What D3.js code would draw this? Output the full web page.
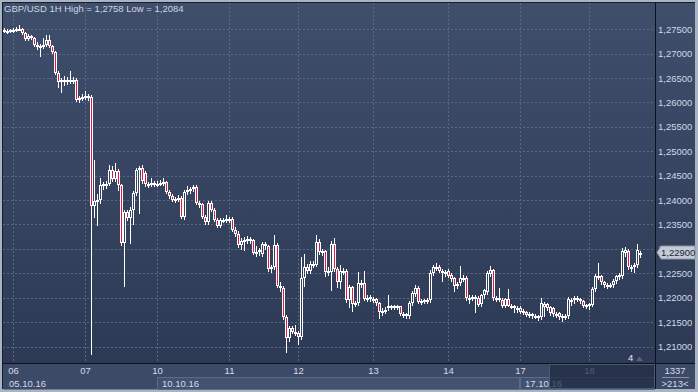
<!DOCTYPE html>
<html>
<head>
<meta charset="utf-8">
<script src="https://cdnjs.cloudflare.com/ajax/libs/d3/7.8.5/d3.min.js"></script>
<style>
    body { margin: 0; background: #aab3c2; }
    svg { display: block; font-family: "Liberation Sans", Arial, sans-serif; }
</style>
</head>
<body>
<svg id="chart" width="698" height="392"></svg>
<script>
// GBP/USD hourly candles, 05.10.16 21:00 .. 18.10.16 (213 bars)
var opens = [
    1.2748,1.2746,1.2747,1.2748,1.2749,1.2751,1.2750,1.2743,1.2730,1.2736,
    1.2733,1.2718,1.2714,1.2716,1.2718,1.2728,1.2716,1.2704,1.2660,1.2642,
    1.2646,1.2644,1.2647,1.2645,1.2647,1.2606,1.2610,1.2612,1.2614,1.2612,
    1.2388,1.2398,1.2400,1.2430,1.2432,1.2434,1.2461,1.2443,1.2460,1.2430,
    1.2312,1.2375,1.2363,1.2380,1.2414,1.2462,1.2465,1.2456,1.2432,1.2433,
    1.2435,1.2432,1.2434,1.2436,1.2438,1.2417,1.2408,1.2400,1.2402,1.2405,
    1.2366,1.2417,1.2420,1.2422,1.2426,1.2394,1.2392,1.2366,1.2356,1.2394,
    1.2380,1.2360,1.2347,1.2360,1.2359,1.2361,1.2362,1.2338,1.2330,1.2308,
    1.2316,1.2318,1.2321,1.2318,1.2292,1.2294,1.2290,1.2310,1.2305,1.2258,
    1.2262,1.2308,1.2225,1.2220,1.2160,1.2118,1.2138,1.2130,1.2128,1.2120,
    1.2240,1.2262,1.2255,1.2270,1.2268,1.2314,1.2294,1.2295,1.2252,1.2253,
    1.2310,1.2258,1.2232,1.2255,1.2254,1.2196,1.2222,1.2186,1.2190,1.2230,
    1.2230,1.2198,1.2202,1.2198,1.2197,1.2190,1.2170,1.2172,1.2178,1.2182,
    1.2181,1.2182,1.2182,1.2166,1.2166,1.2162,1.2190,1.2208,1.2220,1.2192,
    1.2194,1.2195,1.2196,1.2250,1.2262,1.2262,1.2255,1.2250,1.2254,1.2246,
    1.2240,1.2225,1.2230,1.2240,1.2240,1.2200,1.2200,1.2202,1.2200,1.2188,
    1.2205,1.2212,1.2248,1.2256,1.2200,1.2200,1.2196,1.2184,1.2198,1.2184,
    1.2182,1.2178,1.2178,1.2170,1.2170,1.2164,1.2166,1.2162,1.2163,1.2160,
    1.2180,1.2188,1.2168,1.2178,1.2166,1.2168,1.2160,1.2162,1.2162,1.2192,
    1.2195,1.2200,1.2198,1.2193,1.2182,1.2184,1.2186,1.2218,1.2245,1.2244,
    1.2232,1.2226,1.2226,1.2226,1.2234,1.2242,1.2244,1.2292,1.2296,1.2262,
    1.2262,1.2266,1.2292
];
var highs = [
    1.2752,1.2750,1.2751,1.2753,1.2754,1.2758,1.2753,1.2745,1.2740,1.2739,
    1.2735,1.2724,1.2720,1.2732,1.2738,1.2738,1.2718,1.2706,1.2664,1.2650,
    1.2654,1.2652,1.2665,1.2652,1.2650,1.2614,1.2618,1.2624,1.2618,1.2616,
    1.2482,1.2412,1.2445,1.2438,1.2440,1.2472,1.2470,1.2476,1.2464,1.2434,
    1.2380,1.2380,1.2386,1.2418,1.2466,1.2470,1.2472,1.2460,1.2438,1.2445,
    1.2440,1.2440,1.2442,1.2445,1.2440,1.2420,1.2412,1.2406,1.2410,1.2408,
    1.2420,1.2428,1.2426,1.2430,1.2430,1.2398,1.2395,1.2370,1.2398,1.2398,
    1.2383,1.2363,1.2364,1.2364,1.2369,1.2366,1.2365,1.2344,1.2336,1.2322,
    1.2324,1.2326,1.2325,1.2321,1.2305,1.2302,1.2314,1.2314,1.2308,1.2268,
    1.2328,1.2312,1.2232,1.2224,1.2164,1.2142,1.2142,1.2145,1.2132,1.2284,
    1.2290,1.2270,1.2275,1.2276,1.2328,1.2320,1.2300,1.2298,1.2262,1.2316,
    1.2322,1.2262,1.2268,1.2260,1.2258,1.2226,1.2225,1.2194,1.2253,1.2236,
    1.2255,1.2205,1.2206,1.2202,1.2200,1.2192,1.2178,1.2180,1.2205,1.2186,
    1.2186,1.2185,1.2184,1.2170,1.2168,1.2194,1.2214,1.2226,1.2224,1.2198,
    1.2198,1.2200,1.2256,1.2266,1.2272,1.2266,1.2258,1.2256,1.2258,1.2250,
    1.2242,1.2232,1.2264,1.2246,1.2244,1.2206,1.2205,1.2206,1.2203,1.2208,
    1.2218,1.2254,1.2265,1.2258,1.2204,1.2220,1.2199,1.2200,1.2218,1.2188,
    1.2185,1.2182,1.2182,1.2176,1.2173,1.2170,1.2168,1.2166,1.2165,1.2200,
    1.2192,1.2190,1.2184,1.2181,1.2170,1.2170,1.2166,1.2167,1.2202,1.2200,
    1.2204,1.2204,1.2200,1.2195,1.2188,1.2190,1.2222,1.2248,1.2272,1.2247,
    1.2235,1.2230,1.2231,1.2238,1.2247,1.2250,1.2302,1.2304,1.2300,1.2267,
    1.2272,1.2310,1.2296
];
var lows = [
    1.2744,1.2743,1.2744,1.2745,1.2746,1.2748,1.2741,1.2728,1.2728,1.2730,
    1.2716,1.2710,1.2695,1.2712,1.2715,1.2714,1.2702,1.2658,1.2632,1.2622,
    1.2636,1.2638,1.2640,1.2640,1.2603,1.2602,1.2605,1.2608,1.2606,1.2084,
    1.2366,1.2349,1.2395,1.2422,1.2425,1.2430,1.2440,1.2440,1.2420,1.2308,
    1.2225,1.2360,1.2312,1.2350,1.2410,1.2374,1.2436,1.2428,1.2426,1.2428,
    1.2428,1.2428,1.2430,1.2430,1.2414,1.2405,1.2398,1.2396,1.2398,1.2364,
    1.2362,1.2412,1.2414,1.2418,1.2392,1.2386,1.2364,1.2352,1.2352,1.2378,
    1.2358,1.2345,1.2344,1.2355,1.2355,1.2356,1.2336,1.2326,1.2304,1.2300,
    1.2298,1.2312,1.2312,1.2290,1.2285,1.2288,1.2286,1.2300,1.2255,1.2252,
    1.2258,1.2222,1.2214,1.2156,1.2089,1.2112,1.2128,1.2124,1.2105,1.2116,
    1.2225,1.2250,1.2250,1.2262,1.2264,1.2290,1.2288,1.2245,1.2246,1.2216,
    1.2254,1.2222,1.2220,1.2248,1.2192,1.2180,1.2172,1.2182,1.2186,1.2222,
    1.2196,1.2194,1.2194,1.2192,1.2186,1.2158,1.2164,1.2168,1.2174,1.2176,
    1.2177,1.2176,1.2164,1.2160,1.2158,1.2158,1.2186,1.2204,1.2190,1.2188,
    1.2190,1.2190,1.2192,1.2246,1.2256,1.2252,1.2234,1.2244,1.2242,1.2235,
    1.2214,1.2220,1.2226,1.2234,1.2196,1.2190,1.2195,1.2170,1.2183,1.2184,
    1.2200,1.2208,1.2244,1.2196,1.2194,1.2194,1.2180,1.2180,1.2182,1.2178,
    1.2170,1.2170,1.2168,1.2166,1.2162,1.2160,1.2158,1.2158,1.2155,1.2156,
    1.2162,1.2175,1.2164,1.2163,1.2160,1.2157,1.2152,1.2157,1.2158,1.2186,
    1.2190,1.2194,1.2190,1.2180,1.2178,1.2176,1.2182,1.2214,1.2238,1.2229,
    1.2222,1.2220,1.2221,1.2222,1.2230,1.2238,1.2240,1.2286,1.2258,1.2254,
    1.2252,1.2262,1.2284
];
var closes = [
    1.2746,1.2747,1.2748,1.2749,1.2751,1.2750,1.2743,1.2730,1.2736,1.2733,
    1.2718,1.2714,1.2716,1.2718,1.2728,1.2716,1.2704,1.2660,1.2642,1.2646,
    1.2644,1.2647,1.2645,1.2647,1.2606,1.2610,1.2612,1.2614,1.2612,1.2388,
    1.2398,1.2400,1.2430,1.2432,1.2434,1.2461,1.2443,1.2460,1.2430,1.2312,
    1.2375,1.2363,1.2380,1.2414,1.2462,1.2465,1.2440,1.2432,1.2433,1.2435,
    1.2432,1.2434,1.2436,1.2438,1.2417,1.2408,1.2400,1.2402,1.2405,1.2366,
    1.2417,1.2420,1.2422,1.2426,1.2394,1.2392,1.2366,1.2356,1.2394,1.2380,
    1.2360,1.2347,1.2360,1.2359,1.2361,1.2362,1.2338,1.2330,1.2308,1.2316,
    1.2318,1.2321,1.2318,1.2292,1.2294,1.2297,1.2310,1.2305,1.2258,1.2262,
    1.2308,1.2225,1.2220,1.2160,1.2118,1.2138,1.2130,1.2128,1.2120,1.2240,
    1.2262,1.2255,1.2270,1.2268,1.2314,1.2294,1.2295,1.2252,1.2255,1.2310,
    1.2258,1.2232,1.2255,1.2254,1.2196,1.2222,1.2188,1.2190,1.2230,1.2228,
    1.2198,1.2200,1.2198,1.2196,1.2190,1.2170,1.2172,1.2175,1.2182,1.2181,
    1.2182,1.2181,1.2166,1.2166,1.2162,1.2190,1.2210,1.2220,1.2192,1.2194,
    1.2195,1.2196,1.2250,1.2262,1.2262,1.2255,1.2250,1.2252,1.2245,1.2238,
    1.2225,1.2228,1.2240,1.2240,1.2200,1.2200,1.2202,1.2200,1.2186,1.2205,
    1.2215,1.2250,1.2256,1.2200,1.2198,1.2196,1.2184,1.2198,1.2184,1.2182,
    1.2178,1.2174,1.2170,1.2172,1.2164,1.2166,1.2162,1.2163,1.2158,1.2190,
    1.2188,1.2178,1.2180,1.2166,1.2166,1.2160,1.2162,1.2163,1.2198,1.2196,
    1.2200,1.2199,1.2193,1.2184,1.2186,1.2188,1.2218,1.2245,1.2244,1.2232,
    1.2226,1.2226,1.2227,1.2234,1.2244,1.2246,1.2296,1.2298,1.2262,1.2262,
    1.2268,1.2298,1.2290
];

// axis labels
var dayLabels = ['06', '07', '10', '11', '12', '13', '14', '17', '18'];
var dayIndex = [3, 27, 51, 75, 98, 123, 148, 172, 195];   // bar where each day starts
var weekLabels = ['05.10.16', '10.10.16', '17.10.16'];
var weekIndex = [0, 51, 172];
var priceTicks = [1.210, 1.215, 1.220, 1.225, 1.230, 1.235, 1.240,
                  1.245, 1.250, 1.255, 1.260, 1.265, 1.270, 1.275];

var W = 698, H = 392;
var plotL = 3, plotT = 3, plotR = 655, plotB = 363;

var svg = d3.select('#chart');

var grad = svg.append('defs').append('linearGradient')
    .attr('id', 'bg')
    .attr('x1', 0).attr('y1', 0).attr('x2', 0).attr('y2', 1);
grad.append('stop').attr('offset', '0%').attr('stop-color', '#3f4e6b');
grad.append('stop').attr('offset', '100%').attr('stop-color', '#2d3a56');

// frame
svg.append('rect').attr('width', W).attr('height', H).attr('fill', '#aab3c2');
svg.append('rect').attr('x', 2).attr('y', 2).attr('width', W - 5).attr('height', H - 5)
    .attr('fill', '#161d2b');
svg.append('rect').attr('x', plotL).attr('y', plotT).attr('width', 692).attr('height', plotB - plotT)
    .attr('fill', 'url(#bg)');
// time strip at the bottom
svg.append('rect').attr('x', plotL).attr('y', plotB + 1).attr('width', 692).attr('height', 25)
    .attr('fill', '#3c4a67');

var x = d3.scaleLinear().domain([0, closes.length - 1]).range([4, 640]);
var y = d3.scaleLinear().domain([1.210, 1.275]).range([346.5, 29.3]);

function px(i) { return Math.round(x(i)); }
function py(v) { return Math.round(y(v)); }

// dotted grid
svg.append('g').selectAll('line')
    .data(priceTicks)
    .enter()
    .append('line')
    .attr('x1', plotL).attr('x2', plotR)
    .attr('y1', function(d) { return py(d) + 0.5; })
    .attr('y2', function(d) { return py(d) + 0.5; })
    .attr('stroke', '#5a6885')
    .attr('stroke-dasharray', '2,2');

svg.append('g').selectAll('line')
    .data(dayIndex)
    .enter()
    .append('line')
    .attr('x1', function(d) { return px(d) + 0.5; })
    .attr('x2', function(d) { return px(d) + 0.5; })
    .attr('y1', plotT).attr('y2', plotB)
    .attr('stroke', '#5a6885')
    .attr('stroke-dasharray', '2,2');

// candles
var bars = d3.range(closes.length);
var cg = svg.append('g');

bars.forEach(function(i) {
    var cx = px(i) + 0.5;
    var top = py(Math.max(opens[i], closes[i]));
    var bot = py(Math.min(opens[i], closes[i]));
    if (bot - top < 2) bot = top + 2;
    var up = closes[i] >= opens[i];

    // wick above and below the body
    cg.append('line')
        .attr('x1', cx).attr('x2', cx)
        .attr('y1', py(highs[i])).attr('y2', top)
        .attr('stroke', '#ffffff');
    cg.append('line')
        .attr('x1', cx).attr('x2', cx)
        .attr('y1', bot).attr('y2', py(lows[i]) + 1)
        .attr('stroke', '#ffffff');

    cg.append('rect')
        .attr('x', cx - 1)
        .attr('y', top + 0.5)
        .attr('width', 2)
        .attr('height', bot - top - 1)
        .attr('fill', up ? 'none' : '#e4163e')
        .attr('stroke', '#ffffff')
        .attr('stroke-width', 1);
});

// separators
svg.append('line').attr('x1', plotL).attr('x2', 695).attr('y1', plotB + 0.5).attr('y2', plotB + 0.5)
    .attr('stroke', '#0c111b');
svg.append('line').attr('x1', plotR + 0.5).attr('x2', plotR + 0.5).attr('y1', plotT).attr('y2', 389)
    .attr('stroke', '#0c111b');

// price axis on the right
var fmt = function(d) { return d3.format('.5f')(d).replace('.', ','); };
var yAxis = svg.append('g')
    .attr('transform', 'translate(' + (plotR + 1) + ',0)')
    .call(d3.axisRight(y).tickValues(priceTicks).tickFormat(fmt).tickSize(0).tickPadding(2));
yAxis.select('.domain').remove();
yAxis.selectAll('text')
    .attr('fill', '#cfd8e6')
    .style('font-size', '9.5px')
    .style('font-family', '"Liberation Sans", Arial, sans-serif');

// last price marker
var last = closes[closes.length - 1];
var ly = py(last) - 1.5;
svg.append('path')
    .attr('d', 'M' + 657 + ',' + ly + 'L' + 661 + ',' + (ly - 6.5) + 'H695V' + (ly + 6.5) + 'H661Z')
    .attr('fill', '#c4cbd6')
    .attr('stroke', '#8c95a6');
svg.append('text')
    .attr('x', 661).attr('y', ly + 3.5)
    .attr('fill', '#1b2436')
    .style('font-size', '9.5px')
    .text(fmt(last));

// week boxes in the second row of the time strip
var weekRight = weekIndex.slice(1).map(function(d) { return px(d); }).concat([plotR]);
weekIndex.forEach(function(d, k) {
    var x0 = k === 0 ? plotL : px(d);
    svg.append('rect')
        .attr('x', x0 + 0.5).attr('y', 377.5)
        .attr('width', weekRight[k] - x0 - 1).attr('height', 12)
        .attr('fill', k === 0 ? '#3c4a67' : '#43526f')
        .attr('stroke', k === 0 ? 'none' : '#5b6a86');
    svg.append('text')
        .attr('x', x0 + (k === 0 ? 6 : 5)).attr('y', 387)
        .attr('fill', '#d3dbe8')
        .style('font-size', '9.5px')
        .text(weekLabels[k]);
});

// day labels
var xAxis = svg.append('g')
    .attr('transform', 'translate(0,' + (plotB + 1) + ')')
    .call(d3.axisBottom(x).tickValues(dayIndex)
        .tickFormat(function(d, k) { return dayLabels[k]; })
        .tickSize(0).tickPadding(3));
xAxis.select('.domain').remove();
xAxis.selectAll('text')
    .attr('fill', '#d3dbe8')
    .style('font-size', '9.5px')
    .style('font-family', '"Liberation Sans", Arial, sans-serif');

// darker scroll area over the last part of the strip
svg.append('rect')
    .attr('x', 549.5).attr('y', plotB + 1.5).attr('width', plotR - 550).attr('height', 24)
    .attr('fill', '#1e2840').attr('fill-opacity', 0.72)
    .attr('stroke', '#4d5a74');

// bars counter
svg.append('text').attr('x', 675).attr('y', 374).attr('text-anchor', 'middle')
    .attr('fill', '#d3dbe8').style('font-size', '9.5px').text('1337');
svg.append('line').attr('x1', 662).attr('x2', 689).attr('y1', 377.5).attr('y2', 377.5)
    .attr('stroke', '#8592a8');
svg.append('text').attr('x', 675).attr('y', 387).attr('text-anchor', 'middle')
    .attr('fill', '#d3dbe8').style('font-size', '9.5px').text('>' + closes.length + '<');

// little marker at the bottom right of the plot
svg.append('text').attr('x', 628).attr('y', 361)
    .attr('fill', '#e6ebf2').style('font-size', '9.5px').text('4');
svg.append('path').attr('d', 'M636,361L639.5,356.5L643,361Z').attr('fill', '#5a657c');

// title
svg.append('text')
    .attr('x', 4).attr('y', 12)
    .attr('fill', '#cdd5e2')
    .style('font-size', '9.5px')
    .text('GBP/USD 1H High = 1,2758 Low = 1,2084');
</script>
</body>
</html>
